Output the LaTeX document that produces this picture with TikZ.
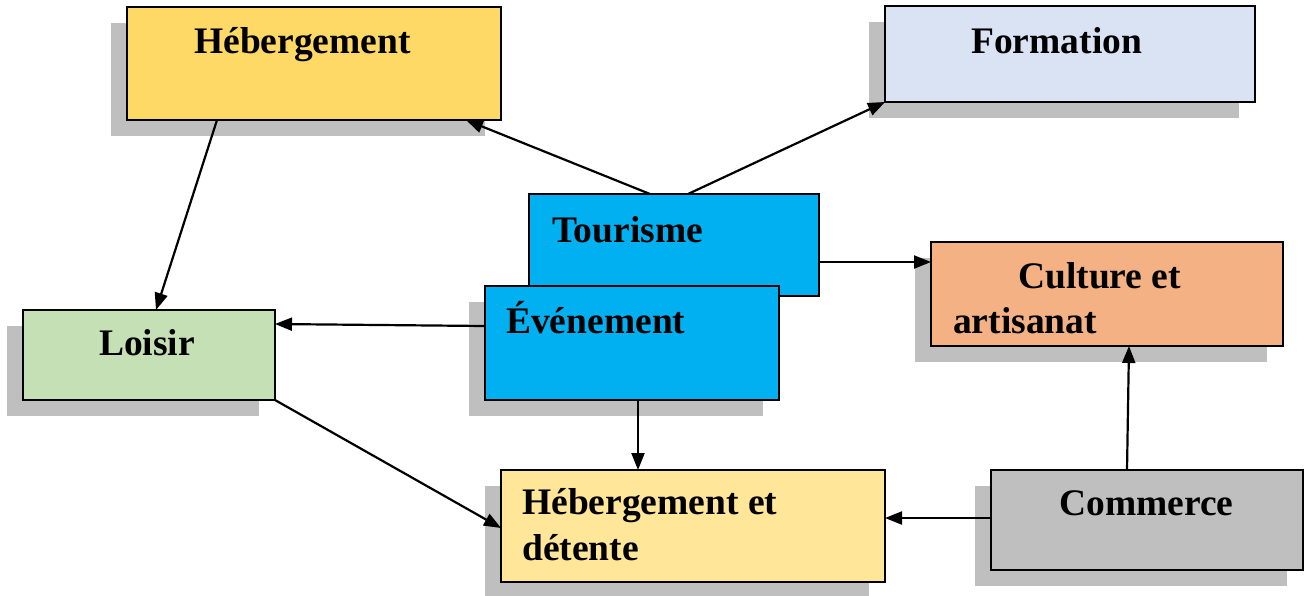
\documentclass[tikz,border=0pt]{standalone}
\usepackage{fontspec}
\setmainfont{Liberation Serif}
\usetikzlibrary{arrows.meta,shadows}
\definecolor{shad}{HTML}{BFBFBF}
\definecolor{cheb}{HTML}{FFD966}
\definecolor{cform}{HTML}{DAE3F3}
\definecolor{ctour}{HTML}{00B0F0}
\definecolor{cloi}{HTML}{C5E0B4}
\definecolor{ccult}{HTML}{F4B183}
\definecolor{ched}{HTML}{FFE699}
\definecolor{ccom}{HTML}{BFBFBF}
\tikzset{
  box/.style={draw=black, line width=2pt, rectangle, inner sep=0pt, outer sep=0pt, anchor=north west},
  shd/.style={drop shadow={shadow xshift=-16pt, shadow yshift=-16pt, fill=shad, opacity=1}},
  txt/.style={anchor=base west, inner sep=0pt, font=\fontsize{37.5}{45}\selectfont\bfseries},
  arr/.style={line width=2.2pt, -{Triangle[length=17pt,width=13pt]}}
}
\begin{document}
\begin{tikzpicture}[x=1pt,y=-1pt]
\useasboundingbox (0,0) rectangle (1305,595);
% boxes
\node[box, shd, fill=cheb, minimum width=374pt, minimum height=113pt] (heb) at (127,7) {};
\node[box, shd, fill=cform, minimum width=370pt, minimum height=96pt] (form) at (885,6) {};
\node[box, fill=ctour, minimum width=290pt, minimum height=102pt] (tour) at (529,194) {};
\node[box, shd, fill=ctour, minimum width=294pt, minimum height=114pt] (ev) at (485,286) {};
\node[box, shd, fill=cloi, minimum width=252pt, minimum height=90pt] (loi) at (23,310) {};
\node[box, shd, fill=ccult, minimum width=352pt, minimum height=104pt] (cult) at (931,242) {};
\node[box, shd, fill=ched, minimum width=384pt, minimum height=112pt] (hed) at (501,470) {};
\node[box, shd, fill=ccom, minimum width=312pt, minimum height=100pt] (com) at (991,470) {};
% texts
\node[txt] (theb) at (194,53) {Hébergement};
\node[txt] (tform) at (971,53) {Formation};
\node[txt] (ttour) at (552,242) {Tourisme};
\node[txt] (tev) at (506,333) {Événement};
\node[txt] (tloi) at (99,355) {Loisir};
\node[txt] (tcult1) at (1018,288) {Culture et};
\node[txt] (tcult2) at (953,333) {artisanat};
\node[txt] (thed1) at (522,514) {Hébergement et};
\node[txt] (thed2) at (522,560) {détente};
\node[txt] (tcom) at (1059,515) {Commerce};
% arrows
\draw[arr] ([xshift=121pt]tour.north west) -- ([xshift=-35pt]heb.south east);
\draw[arr] ([xshift=159pt]tour.north west) -- (form.south west);
\draw[arr] ([xshift=90pt]heb.south west) -- ([xshift=133pt]loi.north west);
\draw[arr] ([yshift=-40pt]ev.north west) -- ([yshift=-14pt]loi.north east);
\draw[arr] ([yshift=-68pt]tour.north east) -- ([yshift=-20pt]cult.north west);
\draw[arr] (loi.south east) -- ([yshift=-58pt]hed.north west);
\draw[arr] ([xshift=153pt]ev.south west) -- ([xshift=137pt]hed.north west);
\draw[arr] ([yshift=-48pt]com.north west) -- ([yshift=-48pt]hed.north east);
\draw[arr] ([xshift=136pt]com.north west) -- ([xshift=198pt]cult.south west);
\end{tikzpicture}
\end{document}
